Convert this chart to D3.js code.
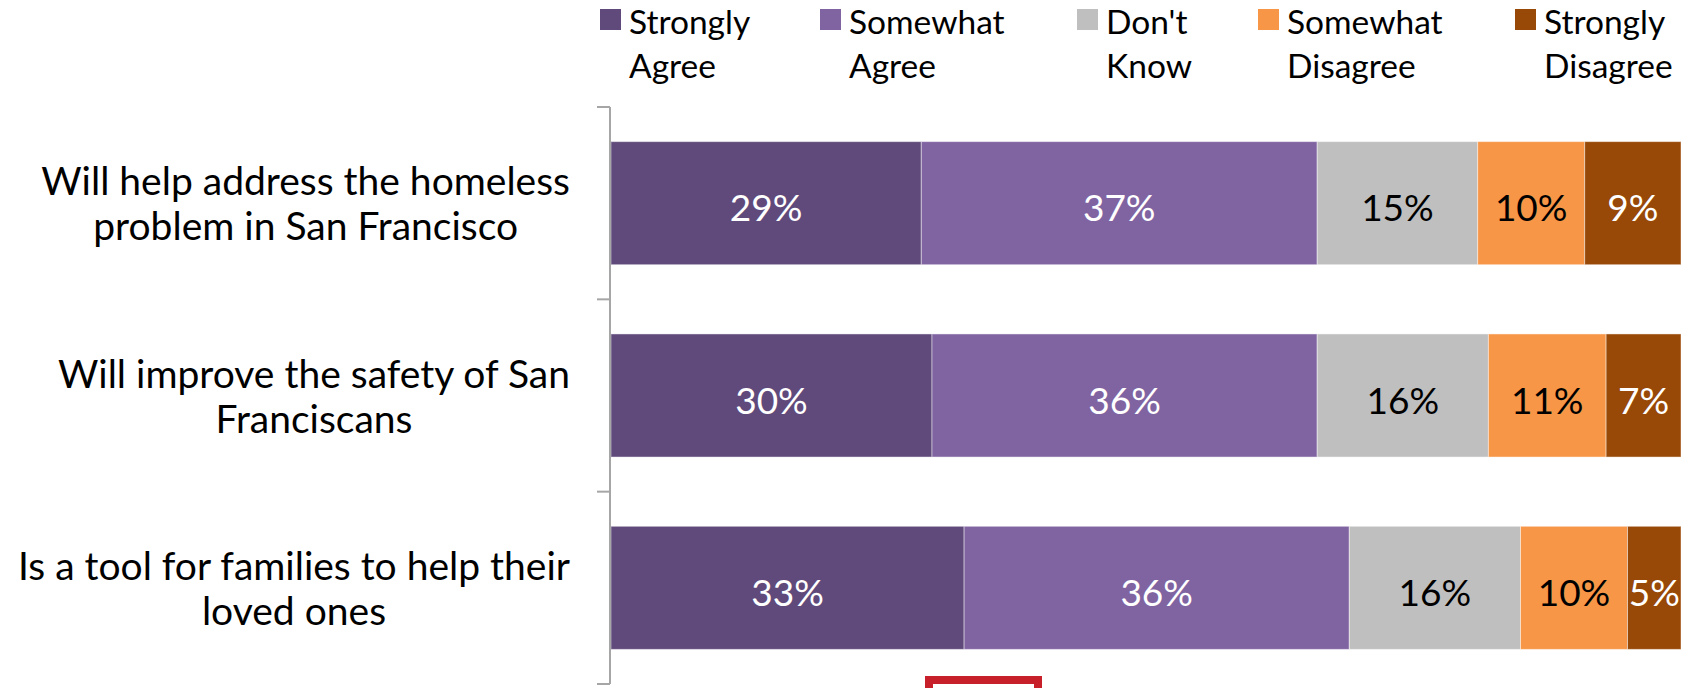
<!DOCTYPE html>
<html>
<head>
<meta charset="utf-8">
<script src="https://cdn.jsdelivr.net/npm/d3@7"></script>
<style>
  html, body { margin: 0; padding: 0; background: #fff; }
  svg { display: block; }
</style>
</head>
<body>
<svg id="chart" width="1684" height="688"></svg>
<script>
// ---- data ----
const categories = [
  ["Will help address the homeless", "problem in San Francisco"],
  ["Will improve the safety of San", "Franciscans"],
  ["Is a tool for families to help their", "loved ones"]
];
const seriesNames = [["Strongly", "Agree"], ["Somewhat", "Agree"], ["Don't", "Know"], ["Somewhat", "Disagree"], ["Strongly", "Disagree"]];
const stronglyAgree    = [29, 30, 33];
const somewhatAgree    = [37, 36, 36];
const dontKnow         = [15, 16, 16];
const somewhatDisagree = [10, 11, 10];
const stronglyDisagree = [9, 7, 5];

const colors = ["#604A7B", "#8064A2", "#BFBFBF", "#F79646", "#984807"];
const labelColors = ["#ffffff", "#ffffff", "#000000", "#000000", "#ffffff"];

const FONT = "Lato, 'Open Sans', sans-serif";

const series = [stronglyAgree, somewhatAgree, dontKnow, somewhatDisagree, stronglyDisagree];
const rows = categories.map((c, i) => {
  const obj = { key: i };
  series.forEach((s, j) => obj["s" + j] = s[i]);
  return obj;
});
const keys = series.map((s, j) => "s" + j);
const stacked = d3.stack().keys(keys)(rows);

const svg = d3.select("#chart");

const x = d3.scaleLinear().domain([0, 100]).range([611, 1681]);
const y = d3.scaleBand().domain(categories.map((c, i) => i))
  .range([107, 684]).paddingInner(0.36).paddingOuter(0.18);
const step = y.step();

// bars
const g = svg.append("g");
stacked.forEach((layer, j) => {
  const lg = g.append("g");
  lg.selectAll("rect").data(layer).enter().append("rect")
    .attr("x", d => x(d[0]))
    .attr("y", (d, i) => y(i))
    .attr("width", d => x(d[1]) - x(d[0]))
    .attr("height", y.bandwidth())
    .attr("fill", colors[j])
    .attr("stroke", "rgba(255,255,255,0.45)")
    .attr("stroke-width", 1);
  lg.selectAll("text").data(layer).enter().append("text")
    .attr("x", d => (x(d[0]) + x(d[1])) / 2)
    .attr("y", (d, i) => y(i) + y.bandwidth() / 2 + 18)
    .attr("text-anchor", "middle")
    .attr("font-family", FONT)
    .attr("font-size", 37)
    .attr("fill", labelColors[j])
    .text(d => (d[1] - d[0]) + "%");
});

// axis
const axisX = 610;
const ag = svg.append("g").attr("stroke", "#A6A6A6").attr("stroke-width", 2).attr("fill", "none");
ag.append("line").attr("x1", axisX).attr("x2", axisX).attr("y1", y.range()[0]).attr("y2", y.range()[1]);
d3.range(categories.length + 1).forEach(i => {
  const ty = y.range()[0] + i * step;
  ag.append("line").attr("x1", axisX - 13).attr("x2", axisX).attr("y1", ty).attr("y2", ty);
});

// category labels: block right-aligned at labelRight, lines centred within the block
const labelRight = 570;
categories.forEach((lines, i) => {
  const cy = y(i) + y.bandwidth() / 2;
  const t = svg.append("text")
    .attr("font-family", FONT)
    .attr("font-size", 39)
    .attr("fill", "#000")
    .attr("text-anchor", "middle");
  const spans = lines.map((ln, k) => t.append("tspan").attr("y", cy - 8 + k * 45).text(ln));
  const maxW = d3.max(spans, s => s.node().getComputedTextLength());
  spans.forEach(s => s.attr("x", labelRight - maxW / 2));
});

// legend
const legendX = [600, 820, 1077, 1258, 1515];
seriesNames.forEach((nm, j) => {
  svg.append("rect").attr("x", legendX[j]).attr("y", 9).attr("width", 21).attr("height", 21).attr("fill", colors[j]);
  const t = svg.append("text").attr("font-family", FONT).attr("font-size", 33.5).attr("fill", "#000");
  nm.forEach((ln, k) => t.append("tspan").attr("x", legendX[j] + 29).attr("y", 33.5 + k * 44).text(ln));
});

// red box fragment at bottom
svg.append("rect").attr("x", 929).attr("y", 680).attr("width", 109).attr("height", 30)
  .attr("fill", "none").attr("stroke", "#C8202A").attr("stroke-width", 8);
</script>
</body>
</html>
